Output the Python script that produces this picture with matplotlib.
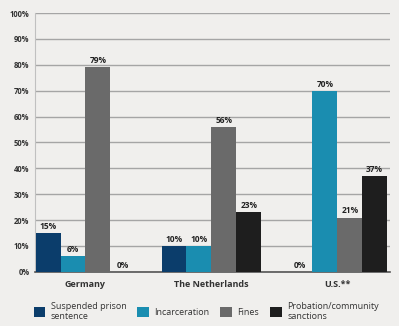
import matplotlib.pyplot as plt
import numpy as np

countries = ['Germany', 'The Netherlands', 'U.S.**']
series = ['Suspended prison\nsentence', 'Incarceration', 'Fines', 'Probation/community\nsanctions']
suspended = [15, 10, 0]
incarceration = [6, 10, 70]
fines = [79, 56, 21]
probation = [0, 23, 37]
colors = ['#0b3d6b', '#1a8db0', '#6a6a6a', '#1e1e1e']

plt.rcParams['font.family'] = ['Open Sans', 'DejaVu Sans']

fig = plt.figure(figsize=(3.99, 3.26), dpi=100)
fig.patch.set_facecolor('#f0efed')
ax = fig.add_axes([0.088, 0.166, 0.89, 0.794])
ax.set_facecolor('#f0efed')

x = np.arange(len(countries))
width = 0.198
data = [suspended, incarceration, fines, probation]
for i, (vals, c, lab) in enumerate(zip(data, colors, series)):
    pos = x - 1.5 * width + i * width
    ax.bar(pos, vals, width, color=c, label=lab, zorder=3)
    for p, v in zip(pos, vals):
        ax.text(p, v + 0.8, f'{v}%', ha='center', va='bottom', fontsize=6,
                fontweight='bold', color='#222222', zorder=4)

ax.set_ylim(0, 100)
ax.set_xlim(-0.4, 2.42)
ax.set_yticks(range(0, 101, 10))
ax.set_yticklabels([f'{v}%' for v in range(0, 101, 10)], fontsize=5.5, fontweight='bold', color='#333333')
ax.set_xticks(x)
ax.set_xticklabels(countries, fontsize=6.5, fontweight='bold', color='#333333')
ax.tick_params(length=0, pad=4)
ax.tick_params(axis='x', pad=6)
ax.yaxis.grid(True, color='#a5a5a5', linewidth=1.0, zorder=0)
for s in ['top', 'right']:
    ax.spines[s].set_visible(False)
ax.spines['left'].set_color('#c0c0c0')
ax.spines['left'].set_linewidth(0.8)
ax.spines['bottom'].set_color('#555555')
ax.spines['bottom'].set_linewidth(1.2)

leg = fig.legend(loc='upper left', bbox_to_anchor=(0.075, 0.085), ncol=4, frameon=False,
                 fontsize=6.5, handlelength=1.3, handleheight=1.3, handletextpad=0.6,
                 columnspacing=1.2, borderaxespad=0)
for t in leg.get_texts():
    t.set_color('#333333')

fig.savefig('out.png', dpi=100, facecolor=fig.get_facecolor())
